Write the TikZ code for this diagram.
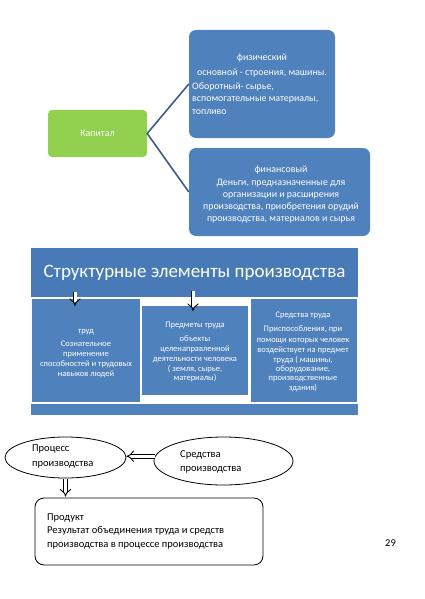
\documentclass[tikz,border=0pt]{standalone}
\usepackage{fontspec}
\setmainfont{Carlito}
\usetikzlibrary{arrows.meta,shapes.geometric}
\definecolor{boxblue}{RGB}{79,129,189}
\definecolor{headblue}{RGB}{72,122,183}
\definecolor{capgreen}{RGB}{146,208,80}
\definecolor{linkblue}{RGB}{56,93,138}

\begin{document}
\begin{tikzpicture}[x=1pt,y=-1pt,
    bluebox/.style={fill=boxblue,rounded corners=7pt,inner sep=0pt},
    flatbox/.style={fill=boxblue,inner sep=0pt},
    wtext/.style={text=white,inner sep=0pt,anchor=base,font=\fontsize{9.9}{12}\selectfont},
    stext/.style={text=white,inner sep=0pt,anchor=base,font=\fontsize{8.5}{10}\selectfont},
    btext/.style={inner sep=0pt,anchor=base west,font=\fontsize{10.5}{13}\selectfont},
    hollow/.style={double=white,double distance=3pt,line width=0.9pt,-{Implies}},
    link/.style={linkblue,line width=1.6pt}]
        \path[fill=white,use as bounding box] (0,0) rectangle (424,599);
        % capital and its two kinds
        \node[fill=capgreen,rounded corners=4pt,inner sep=0pt,minimum width=99pt,minimum height=47pt,
              text=white,font=\fontsize{9.9}{12}\selectfont] (kapital) at (97.5,133.5) {Капитал};
        \node[bluebox,minimum width=146pt,minimum height=108pt] (phys) at (262,84) {};
        \node[bluebox,minimum width=181pt,minimum height=88pt] (fin) at (279.5,192) {};
        \draw[link] (phys.west) -- (kapital.east) -- (fin.west);
        \node[wtext] (phys-1) at (262,61) {физический};
        \node[wtext] (phys-2) at (262,76) {основной - строения, машины.};
        \foreach \t [count=\i] in {{Оборотный- сырье,},{вспомогательные материалы,},{топливо}} {
          \node[wtext,anchor=base west] (phys-l\i) at (192,78+12*\i) {\t};
        }
        \node[wtext] (fin-0) at (281,172) {финансовый};
        \foreach \t [count=\i] in {{Деньги, предназначенные для},{организации и расширения},
                                   {производства, приобретения орудий},{производства, материалов и сырья}} {
          \node[wtext] (fin-\i) at (281,173+12*\i) {\t};
        }
        % structural elements
        \node[flatbox,fill=headblue,minimum width=327pt,minimum height=49pt,text=white,
              font=\fontsize{19}{22}\selectfont] (head) at (194.5,272.5) {Структурные элементы производства};
        \node[flatbox,minimum width=108pt,minimum height=103pt] (trud) at (86,350.5) {};
        \node[flatbox,minimum width=106pt,minimum height=89pt] (predm) at (195,350.5) {};
        \node[flatbox,minimum width=106pt,minimum height=103pt] (sredT) at (304,350.5) {};
        \node[flatbox,minimum width=327pt,minimum height=11pt] (bar) at (194.5,409.5) {};
        \coordinate (a1s) at (75,292);
        \coordinate (a1e) at (75,306);
        \coordinate (a2s) at (193,291);
        \coordinate (a2e) at (193,311);
        \draw[hollow] (a1s) -- (a1e);
        \draw[hollow] (a2s) -- (a2e);
        \foreach \t/\y [count=\i] in {труд/333,Сознательное/346,применение/356,{способностей и трудовых}/366,{навыков людей}/376} {
          \node[stext] (trud-\i) at (86,\y) {\t};
        }
        \foreach \t/\y [count=\i] in {{Предметы труда}/327,объекты/341,целенаправленной/351,{деятельности человека}/361,
                                      {( земля, сырье,}/371,{материалы)}/380} {
          \node[stext] (predm-\i) at (195,\y) {\t};
        }
        \foreach \t/\y [count=\i] in {{Средства труда}/317,{Приспособления, при}/331,{помощи которых человек}/342,
                                      {воздействует на предмет}/352,{труда ( машины,}/362,{оборудование,}/371,
                                      {производственные}/380,{здания)}/390} {
          \node[stext] (sredT-\i) at (303,\y) {\t};
        }
        % process
        \node[draw,ellipse,line width=0.8pt,inner sep=0pt,minimum width=121pt,minimum height=41pt] (proc) at (65.5,457.5) {};
        \node[draw,ellipse,line width=0.8pt,inner sep=0pt,minimum width=139pt,minimum height=48pt] (sred) at (223.5,461) {};
        \node[btext] (proc-1) at (32,451) {Процесс};
        \node[btext] (proc-2) at (32,466) {производства};
        \node[btext] (sred-1) at (180,457) {Средства};
        \node[btext] (sred-2) at (180,471) {производства};
        \node[draw,line width=0.8pt,rounded corners=9pt,inner sep=0pt,minimum width=228pt,minimum height=67pt] (prod) at (149,531.5) {};
        \draw[hollow] (sred.176) -- (proc.east |- sred.176);
        \draw[hollow] ([yshift=-1pt]proc.south) -- ([yshift=1pt]proc.south |- prod.north);
        \node[btext] (prod-1) at (47,520) {Продукт};
        \node[btext] (prod-2) at (47,533) {Результат объединения труда и средств};
        \node[btext] (prod-3) at (47,547) {производства в процессе производства};
        \node[btext] (page) at (385,546) {29};
\end{tikzpicture}
\end{document}
